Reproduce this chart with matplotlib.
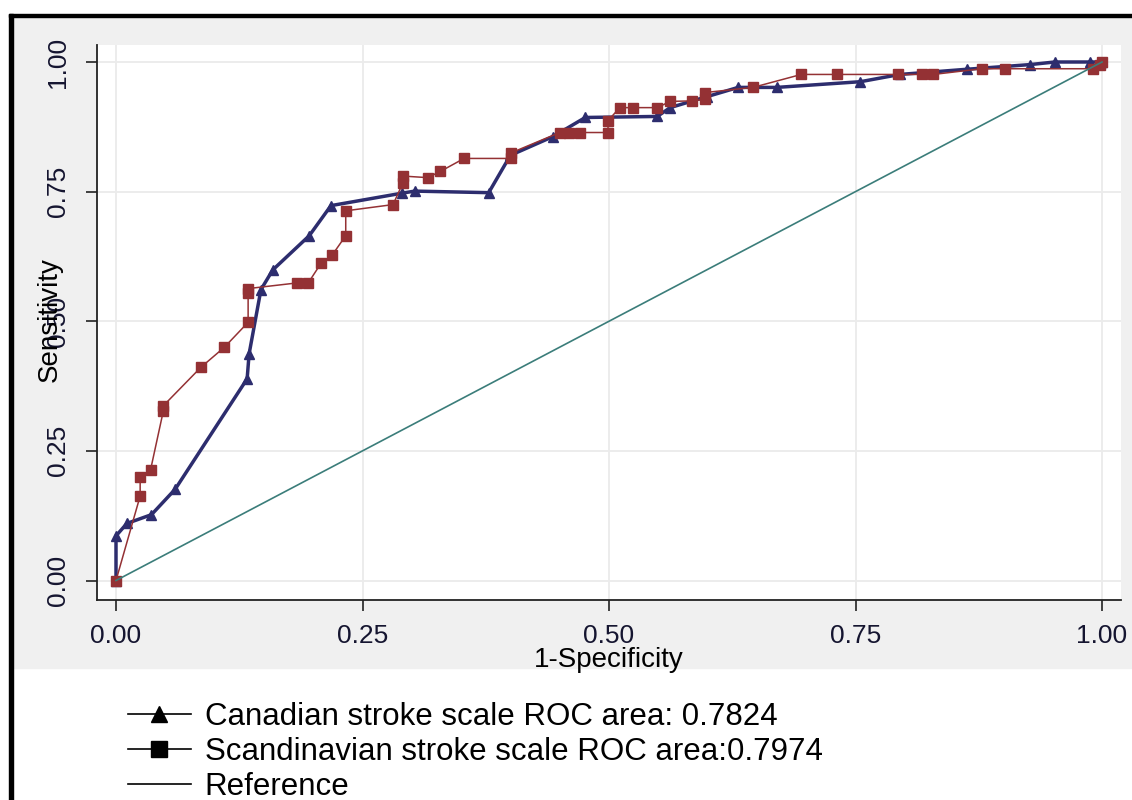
import numpy as np
import matplotlib.pyplot as plt
from matplotlib.lines import Line2D
from matplotlib.patches import Rectangle

plt.rcParams['font.family'] = ['Liberation Sans', 'DejaVu Sans']

# ROC points (1-specificity, sensitivity)
can_x = [0, 0, 0.011, 0.036, 0.060, 0.133, 0.135, 0.147, 0.159, 0.196, 0.218,
         0.290, 0.303, 0.378, 0.400, 0.443, 0.476, 0.549, 0.562, 0.599, 0.631,
         0.670, 0.755, 0.795, 0.863, 0.927, 0.952, 0.988, 1.0]
can_y = [0, 0.086, 0.110, 0.127, 0.176, 0.389, 0.437, 0.561, 0.599, 0.665, 0.723,
         0.747, 0.751, 0.748, 0.820, 0.856, 0.893, 0.895, 0.912, 0.933, 0.951,
         0.951, 0.962, 0.976, 0.986, 0.995, 1.0, 1.0, 1.0]

sc_x = [0, 0.0245, 0.0245, 0.035, 0.048, 0.048, 0.086, 0.110, 0.134, 0.134, 0.134,
        0.184, 0.195, 0.208, 0.219, 0.233, 0.233, 0.281, 0.291, 0.291, 0.316,
        0.329, 0.353, 0.401, 0.401, 0.450, 0.459, 0.471, 0.499, 0.499, 0.511,
        0.524, 0.549, 0.562, 0.584, 0.597, 0.597, 0.646, 0.695, 0.731, 0.793,
        0.817, 0.829, 0.878, 0.902, 0.991, 0.998, 1.0]
sc_y = [0, 0.163, 0.200, 0.213, 0.327, 0.337, 0.411, 0.450, 0.498, 0.554, 0.563,
        0.574, 0.574, 0.612, 0.627, 0.665, 0.713, 0.725, 0.767, 0.780, 0.777,
        0.789, 0.814, 0.814, 0.825, 0.864, 0.864, 0.864, 0.864, 0.887, 0.912,
        0.912, 0.912, 0.924, 0.925, 0.928, 0.941, 0.951, 0.976, 0.976, 0.976,
        0.976, 0.976, 0.987, 0.987, 0.987, 0.995, 1.0]

ref_x = [0, 1]
ref_y = [0, 1]

ticks = [0, 0.25, 0.5, 0.75, 1.0]
tick_labels = ["0.00", "0.25", "0.50", "0.75", "1.00"]
legend_labels = ["Canadian stroke scale ROC area: 0.7824",
                 "Scandinavian stroke scale ROC area:0.7974",
                 "Reference"]

navy = "#2d2d6e"
maroon = "#943134"
teal = "#3b7d7a"

W, H = 1132, 800
fig = plt.figure(figsize=(W / 100, H / 100), dpi=100)
fig.patch.set_facecolor("white")

# gray graph region and black border (Stata-like frame), behind the axes
fig.patches.append(Rectangle((13 / W, 1 - 668 / H), 1 - 13 / W, (668 - 17) / H,
                             transform=fig.transFigure, color="#f0f0f0", zorder=-2))
fig.patches.append(Rectangle((9 / W, 0), 4 / W, 1 - 14 / H,
                             transform=fig.transFigure, color="black", zorder=-1))
fig.patches.append(Rectangle((9 / W, 1 - 17 / H), 1 - 9 / W, 3 / H,
                             transform=fig.transFigure, color="black", zorder=-1))

ax = fig.add_axes([96.5 / W, 1 - 600 / H, (1121 - 96.5) / W, (600 - 45) / H])
ax.set_facecolor("white")

ax.plot(can_x, can_y, color=navy, lw=2.5, marker="^", ms=7, zorder=3)
ax.plot(sc_x, sc_y, color=maroon, lw=1.1, marker="s", ms=7.5, zorder=4)
ax.plot(ref_x, ref_y, color=teal, lw=1.2, zorder=5)

ax.set_xlim(-19.5 / 986, 1 + 19 / 986)
ax.set_ylim(-19.5 / 518.5, 1 + 17 / 518.5)

ax.set_xticks(ticks)
ax.set_xticklabels(tick_labels)
ax.set_yticks(ticks)
ax.set_yticklabels(tick_labels, rotation=90, va="center")
ax.tick_params(axis="both", direction="out", length=8, width=1.2, colors="#222222",
               labelsize=19, labelcolor="#151530")
ax.tick_params(axis="x", pad=9)
ax.tick_params(axis="y", pad=11)
ax.grid(True, color="#ebebeb", lw=1.3)
ax.set_axisbelow(True)

for s in ["top", "right"]:
    ax.spines[s].set_visible(False)
for s in ["left", "bottom"]:
    ax.spines[s].set_color("#222222")
    ax.spines[s].set_linewidth(1.3)

ax.set_xlabel("1-Specificity", fontsize=20, va="center")
ax.xaxis.set_label_coords(0.5, -0.109)
ax.set_ylabel("Sensitivity", fontsize=20, va="center")
ax.yaxis.set_label_coords(-0.0454, 0.5045)

handles = [Line2D([], [], color="black", lw=1.2, marker="^", ms=11),
           Line2D([], [], color="black", lw=1.2, marker="s", ms=12),
           Line2D([], [], color="black", lw=1.2)]
fig.legend(handles, legend_labels, loc="upper left", bbox_to_anchor=(128 / W, 0.122),
           frameon=False, fontsize=22.5, borderpad=0, borderaxespad=0,
           handlelength=2.0, handletextpad=0.45, labelspacing=0.15)

fig.savefig("out.png", dpi=100)
